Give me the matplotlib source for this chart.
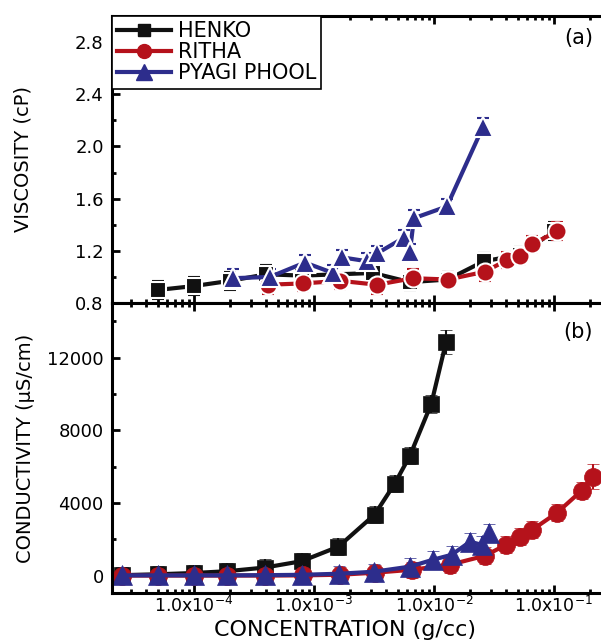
import numpy as np
import matplotlib.pyplot as plt
from matplotlib.lines import Line2D
from matplotlib.ticker import LogLocator, NullFormatter, MultipleLocator, FixedLocator, FixedFormatter

plt.rcParams['font.family'] = ['DejaVu Sans']

# ---- viscosity (top panel) ----
henko_c_v = [5e-5, 1e-4, 2e-4, 4e-4, 8e-4, 3.1e-3, 6.3e-3, 1.3e-2, 2.6e-2, 5.2e-2, 0.1]
henko_visc = [0.90, 0.93, 0.97, 1.02, 1.01, 1.03, 0.96, 0.98, 1.12, 1.17, 1.35]
henko_visc_err = [0.07, 0.07, 0.07, 0.07, 0.06, 0.06, 0.06, 0.06, 0.06, 0.06, 0.07]

ritha_c_v = [4.1e-4, 8.1e-4, 1.65e-3, 3.35e-3, 6.7e-3, 1.31e-2, 2.66e-2, 4.06e-2, 5.2e-2, 6.6e-2, 0.106]
ritha_visc = [0.94, 0.95, 0.97, 0.94, 0.99, 0.98, 1.04, 1.13, 1.16, 1.25, 1.35]
ritha_visc_err = [0.07, 0.06, 0.06, 0.07, 0.07, 0.06, 0.07, 0.06, 0.06, 0.06, 0.07]

pyagi_c_v = [2.1e-4, 4.3e-4, 8.4e-4, 1.44e-3, 1.71e-3, 2.77e-3, 3.35e-3, 5.6e-3, 6.3e-3, 6.8e-3, 1.28e-2, 2.56e-2]
pyagi_visc = [0.99, 1.00, 1.11, 1.03, 1.15, 1.12, 1.18, 1.30, 1.19, 1.45, 1.54, 2.15]
pyagi_visc_err = [0.07, 0.06, 0.06, 0.06, 0.06, 0.06, 0.06, 0.06, 0.06, 0.06, 0.06, 0.07]

# ---- conductivity (bottom panel) ----
henko_c_k = [2.5e-5, 5e-5, 1e-4, 1.9e-4, 3.9e-4, 7.9e-4, 1.6e-3, 3.2e-3, 4.7e-3, 6.3e-3, 9.5e-3, 1.26e-2]
henko_cond = [30, 80, 150, 250, 450, 800, 1600, 3360, 5060, 6600, 9460, 12850]
henko_cond_err = [450, 450, 450, 450, 450, 450, 480, 480, 480, 480, 500, 680]

ritha_c_k = [2.5e-5, 5e-5, 1e-4, 1.9e-4, 3.9e-4, 8.1e-4, 1.65e-3, 3.2e-3, 6.6e-3, 1.36e-2,
             2.66e-2, 4e-2, 5.2e-2, 6.6e-2, 0.106, 0.17, 0.21]
ritha_cond = [10, 10, 10, 10, 10, 20, 55, 165, 330, 605, 1100, 1705, 2145, 2530, 3465, 4680, 5450]
ritha_cond_err = [450, 450, 450, 450, 450, 450, 450, 450, 450, 450, 480, 480, 480, 480, 480, 470, 700]

pyagi_c_k = [2.5e-5, 5e-5, 1e-4, 1.9e-4, 3.9e-4, 7.9e-4, 1.62e-3, 3.16e-3, 6.3e-3, 9.8e-3,
             1.4e-2, 2e-2, 2.5e-2, 2.9e-2]
pyagi_cond = [20, 20, 20, 20, 30, 50, 110, 220, 500, 880, 1150, 1870, 1700, 2370]
pyagi_cond_err = [470, 470, 470, 450, 450, 450, 450, 450, 480, 480, 480, 480, 480, 480]

xtick_vals = [1e-4, 1e-3, 1e-2, 1e-1]
xtick_labels = [r'1.0x10$^{-4}$', r'1.0x10$^{-3}$', r'1.0x10$^{-2}$', r'1.0x10$^{-1}$']

black = '#111111'
red = '#B5121B'
blue = '#2D2D8C'

fig = plt.figure(figsize=(6.01, 6.40), dpi=100)
# axes run past the right edge of the picture, like the cropped original
ax1 = fig.add_axes([112/601, 1-303/640, 528/601, 287/640])
ax2 = fig.add_axes([112/601, 1-593/640, 528/601, 290/640], sharex=ax1)

xmin = 10**(-1 + (112-554)/120)
xmax = 10**(-1 + (640-554)/120)

def draw(ax, x, y, e, color, marker, ms, gap=False):
    ax.errorbar(x, y, yerr=e, color=color, ecolor=color, marker=marker, ms=ms,
                lw=3, elinewidth=1.5, capsize=4, capthick=1.5,
                mec='white' if gap else color, mew=1.5 if gap else 0.5)

draw(ax1, henko_c_v, henko_visc, henko_visc_err, black, 's', 11, gap=True)
draw(ax1, ritha_c_v, ritha_visc, ritha_visc_err, red, 'o', 13, gap=True)
draw(ax1, pyagi_c_v, pyagi_visc, pyagi_visc_err, blue, '^', 14, gap=True)

draw(ax2, henko_c_k, henko_cond, henko_cond_err, black, 's', 11)
draw(ax2, ritha_c_k, ritha_cond, ritha_cond_err, red, 'o', 13)
draw(ax2, pyagi_c_k, pyagi_cond, pyagi_cond_err, blue, '^', 14)

ax1.set_xscale('log')
ax1.set_xlim(xmin, xmax)
ax1.set_ylim(0.8, 3.0)
ax2.set_ylim(-950, 15000)

ax1.yaxis.set_major_locator(FixedLocator([0.8, 1.2, 1.6, 2.0, 2.4, 2.8]))
ax1.yaxis.set_major_formatter(FixedFormatter(['0.8', '1.2', '1.6', '2.0', '2.4', '2.8']))
ax1.yaxis.set_minor_locator(MultipleLocator(0.2))
ax2.yaxis.set_major_locator(FixedLocator([0, 4000, 8000, 12000]))
ax2.yaxis.set_minor_locator(MultipleLocator(2000))

for ax in (ax1, ax2):
    ax.xaxis.set_major_locator(FixedLocator(xtick_vals))
    ax.xaxis.set_minor_locator(LogLocator(base=10, subs=np.arange(2, 10), numticks=20))
    ax.xaxis.set_minor_formatter(NullFormatter())
    ax.tick_params(which='both', direction='in', top=True, right=False, width=2, labelsize=13, pad=6)
    ax.tick_params(which='major', length=6)
    ax.tick_params(which='minor', length=3)
    for s in ax.spines.values():
        s.set_linewidth(2.2)
    ax.spines['right'].set_visible(False)

ax2.xaxis.set_major_formatter(FixedFormatter(xtick_labels))
ax2.tick_params(axis='x', labelsize=12.5, pad=2)
ax1.tick_params(axis='x', labelbottom=False)

ax1.set_ylabel('VISCOSITY (cP)', fontsize=14)
ax2.set_ylabel('CONDUCTIVITY (\u03bcS/cm)', fontsize=14)
ax1.yaxis.set_label_coords(-0.15, 0.5)
ax2.yaxis.set_label_coords(-0.145, 0.5)
ax2.set_xlabel('CONCENTRATION (g/cc)', fontsize=16)
ax2.xaxis.set_label_coords((345-112)/528, -0.093)

ax1.text((593-112)/528, (303-38)/287, '(a)', transform=ax1.transAxes, fontsize=15, ha='right', va='center')
ax2.text((593-112)/528, 1-(332-303)/290, '(b)', transform=ax2.transAxes, fontsize=15, ha='right', va='center')

handles = [Line2D([], [], color=black, lw=3, marker='s', ms=9),
           Line2D([], [], color=red, lw=3, marker='o', ms=10),
           Line2D([], [], color=blue, lw=3, marker='^', ms=11)]
leg = ax1.legend(handles, ['HENKO', 'RITHA', 'PYAGI PHOOL'], loc='upper left',
                 bbox_to_anchor=(0, 1.0), borderaxespad=0, fontsize=15,
                 handlelength=2.6, handletextpad=0.3, labelspacing=0.05, borderpad=0.25,
                 fancybox=False, framealpha=1, edgecolor='black')
leg.get_frame().set_linewidth(1.2)

fig.savefig('out.png', dpi=100)
